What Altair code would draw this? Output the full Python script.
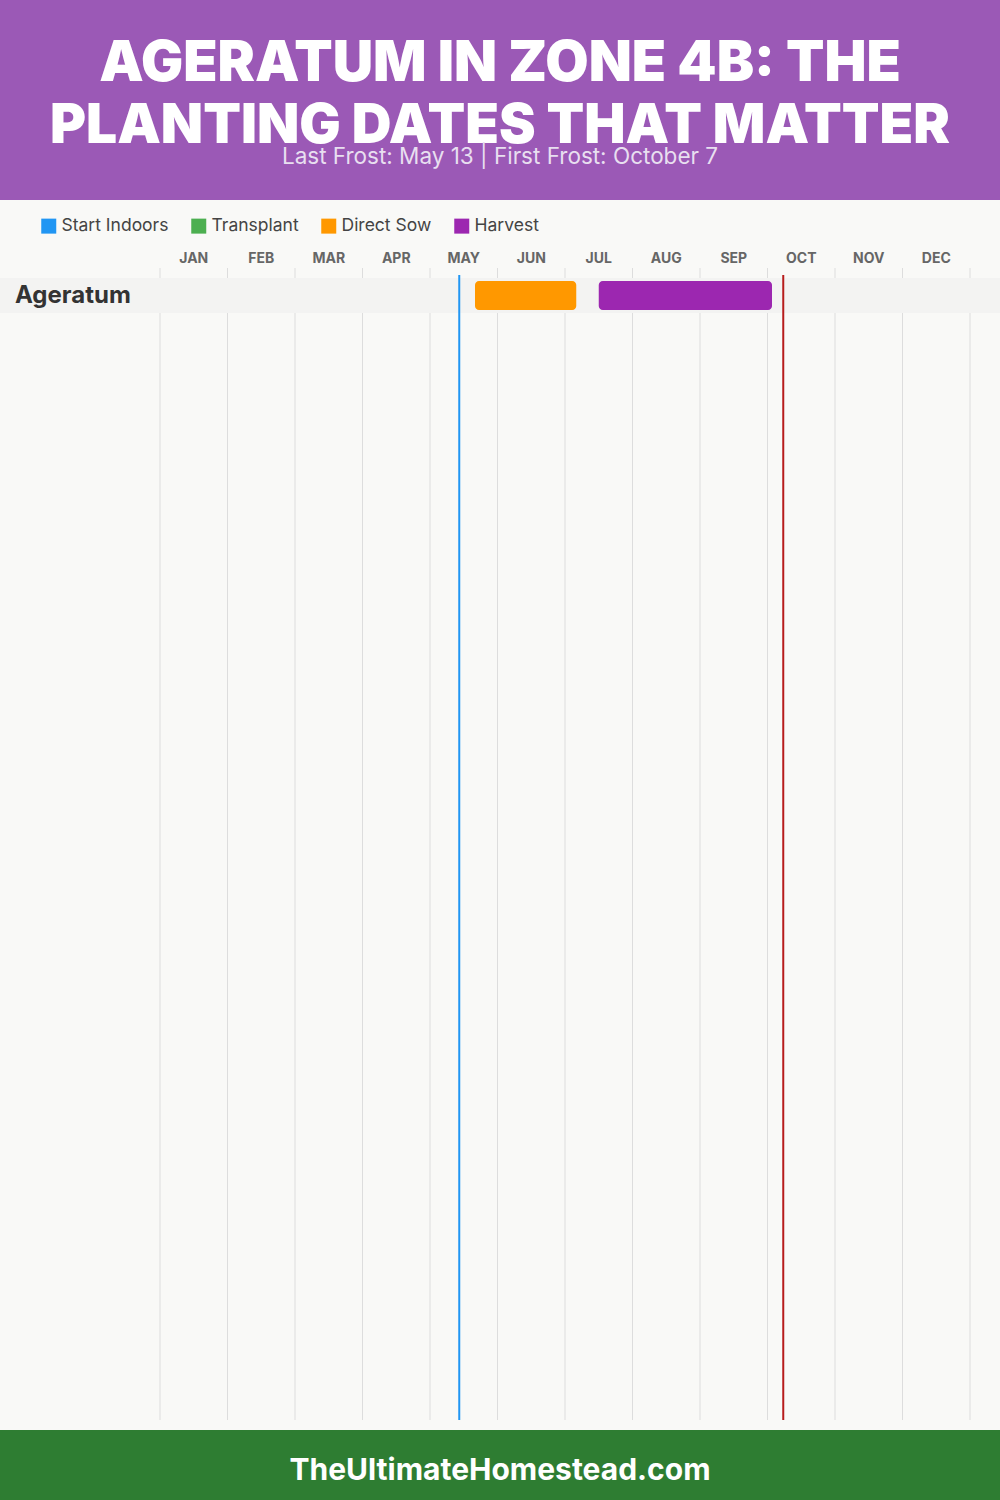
import altair as alt
import pandas as pd

# ---- data ----
months = ["JAN", "FEB", "MAR", "APR", "MAY", "JUN", "JUL", "AUG", "SEP", "OCT", "NOV", "DEC"]
crops = ["Ageratum"]
stages = ["Start Indoors", "Transplant", "Direct Sow", "Harvest"]
stage_colors = ["#2196F3", "#4CAF50", "#FF9800", "#9C27B0"]
bar_crop = ["Ageratum", "Ageratum"]
bar_stage = ["Direct Sow", "Harvest"]
bar_start = [(5, 20), (7, 15)]   # (month, day)
bar_end = [(7, 5), (10, 2)]
last_frost = (5, 13)
first_frost = (10, 7)

def mpos(md):
    m, d = md
    return (m - 1) + d / 30.0

bars = pd.DataFrame({
    "crop": bar_crop,
    "stage": bar_stage,
    "start": [mpos(s) for s in bar_start],
    "end": [mpos(e) for e in bar_end],
})
mon_df = pd.DataFrame({"month": months, "mid": [i + 0.5 for i in range(12)]})
grid_df = pd.DataFrame({"g": list(range(13))})
frost_df = pd.DataFrame({
    "name": ["Last Frost", "First Frost"],
    "pos": [mpos(last_frost), mpos(first_frost)],
    "col": ["#2196F3", "#B71C1C"],
})
crop_df = pd.DataFrame({"crop": crops})
one = pd.DataFrame({"k": [0]})

xs = alt.Scale(domain=[0, 12], range=[160, 970])
ys = alt.Scale(domain=crops, range=[278, 313], paddingInner=0, paddingOuter=0)
FONT = "Inter"

header = alt.Chart(one).mark_rect(color="#9B59B6").encode(
    x=alt.value(0), x2=alt.value(1000), y=alt.value(0), y2=alt.value(200))
t1 = alt.Chart(one).mark_text(font=FONT, fontWeight=900, fontSize=56, color="white",
                              align="center", baseline="alphabetic").encode(
    x=alt.value(500), y=alt.value(81), text=alt.value("AGERATUM IN ZONE 4B: THE"))
t2 = alt.Chart(one).mark_text(font=FONT, fontWeight=900, fontSize=55, color="white",
                              align="center", baseline="alphabetic").encode(
    x=alt.value(500), y=alt.value(143), text=alt.value("PLANTING DATES THAT MATTER"))
sub = alt.Chart(one).mark_text(font=FONT, fontSize=22.5, color="#E8DFF0",
                               align="center", baseline="alphabetic").encode(
    x=alt.value(500), y=alt.value(164),
    text=alt.value("Last Frost: May 13 | First Frost: October 7"))

grid = alt.Chart(grid_df).mark_rule(color="#DDDDDD", strokeWidth=1).encode(
    x=alt.X("g:Q", scale=xs, axis=None), y=alt.value(268), y2=alt.value(1420))
band = alt.Chart(crop_df).mark_bar(color="#F3F3F2", height=35).encode(
    x=alt.value(0), x2=alt.value(1000),
    y=alt.Y("crop:N", scale=ys, axis=None))
mon = alt.Chart(mon_df).mark_text(font=FONT, fontWeight="bold", fontSize=14, color="#666666",
                                  baseline="middle").encode(
    x=alt.X("mid:Q", scale=xs, axis=None), y=alt.value(259), text="month:N")
crop_lbl = alt.Chart(crop_df).mark_text(font=FONT, fontWeight="bold", fontSize=24, color="#333333",
                                        align="left", baseline="middle").encode(
    x=alt.value(15), y=alt.Y("crop:N", scale=ys, axis=None), text="crop:N")
bar = alt.Chart(bars).mark_bar(height=29, cornerRadius=4).encode(
    x=alt.X("start:Q", scale=xs, axis=None), x2="end:Q",
    y=alt.Y("crop:N", scale=ys, axis=None),
    color=alt.Color("stage:N", scale=alt.Scale(domain=stages, range=stage_colors),
                    legend=alt.Legend(orient="none", legendX=40, legendY=217, direction="horizontal",
                                      title=None, symbolType="square", symbolSize=225,
                                      symbolStrokeWidth=0, labelFont=FONT, labelFontSize=17.5,
                                      labelColor="#444444", labelOffset=4, columnPadding=21,
                                      padding=0)))
frost = alt.Chart(frost_df).mark_rule(strokeWidth=2).encode(
    x=alt.X("pos:Q", scale=xs, axis=None), y=alt.value(275), y2=alt.value(1420),
    color=alt.Color("col:N", scale=None))
footer = alt.Chart(one).mark_rect(color="#2E7D32").encode(
    x=alt.value(0), x2=alt.value(1000), y=alt.value(1430), y2=alt.value(1500))
ftxt = alt.Chart(one).mark_text(font=FONT, fontWeight="bold", fontSize=30, color="white",
                                align="center", baseline="middle").encode(
    x=alt.value(500), y=alt.value(1471), text=alt.value("TheUltimateHomestead.com"))

chart = alt.layer(header, t1, t2, sub, grid, band, mon, crop_lbl, bar, frost, footer, ftxt).resolve_scale(
    color="independent").properties(
    width=1000, height=1500, autosize=alt.AutoSizeParams(type="none"), padding=0,
    background="#F9F9F7").configure_view(stroke=None)

chart.save("out.html", embed_options={"renderer": "svg", "actions": False})
